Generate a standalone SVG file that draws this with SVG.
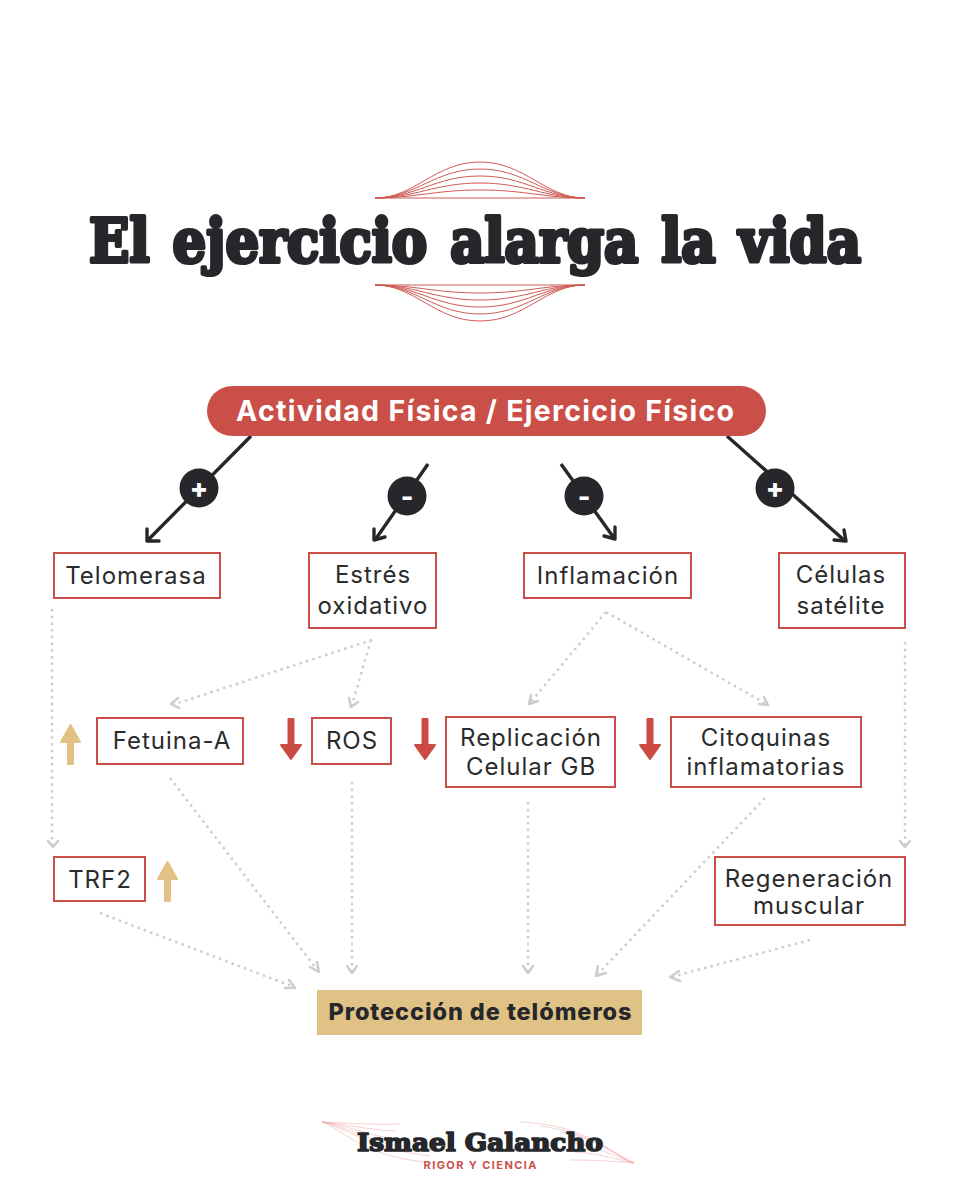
<svg xmlns="http://www.w3.org/2000/svg" width="960" height="1200" viewBox="0 0 960 1200">
<style>
.lb{font-family:Inter,"Noto Sans",sans-serif;font-size:24px;fill:#2a2b2d;text-anchor:middle;letter-spacing:1px}
.bx{fill:#fff;stroke:#cb4f49;stroke-width:2}
.slab{font-family:"DejaVu Serif",serif;font-weight:700;fill:#25272a;stroke:#25272a;text-anchor:middle;stroke-linejoin:round}
.d{fill:none;stroke:#cdcdcd;stroke-width:2.5;stroke-dasharray:2.5 4.2}
.h{fill:none;stroke:#cdcdcd;stroke-width:2.5;stroke-linecap:round;stroke-linejoin:round}
.k{fill:none;stroke:#25272a;stroke-width:3.4}
.kh{fill:none;stroke:#25272a;stroke-width:3.4;stroke-linecap:round;stroke-linejoin:round}
.c{fill:#25272a}
.s{font-family:Inter,sans-serif;font-weight:800;fill:#fff;text-anchor:middle;font-size:27px}
.w{fill:none;stroke:#cf5a54;stroke-width:1}
.up{fill:#e2c185;stroke:#e2c185;stroke-width:2;stroke-linejoin:round}
.dn{fill:#cb4a44;stroke:#cb4a44;stroke-width:2;stroke-linejoin:round}
</style>
<rect width="960" height="1200" fill="#fff"/>
<g id="ornament-top" class="w">
<path d="M375 198C415 198 435 162 480 162S545 198 585 198"/>
<path d="M375 198C415 198 435 169 480 169S545 198 585 198"/>
<path d="M375 198C415 198 435 176 480 176S545 198 585 198"/>
<path d="M375 198C415 198 435 183 480 183S545 198 585 198"/>
<path d="M375 198C415 198 435 190 480 190S545 198 585 198"/>
<path d="M375 198H585"/>
</g>
<g id="ornament-bottom" class="w">
<path d="M375 285C415 285 435 321 480 321S545 285 585 285"/>
<path d="M375 285C415 285 435 314 480 314S545 285 585 285"/>
<path d="M375 285C415 285 435 307 480 307S545 285 585 285"/>
<path d="M375 285C415 285 435 300 480 300S545 285 585 285"/>
<path d="M375 285C415 285 435 293 480 293S545 285 585 285"/>
<path d="M375 285H585"/>
</g>
<text id="title" class="slab" x="475" y="262" font-size="59" stroke-width="4" word-spacing="5" textLength="772" lengthAdjust="spacingAndGlyphs">El ejercicio alarga la vida</text>

<g id="connectors">
<path class="k" d="M251 436L148 540"/><path class="kh" d="M147 529L147 541L159 541"/>
<path class="k" d="M428 464L375 540"/><path class="kh" d="M374 529L374 540L385 537"/>
<path class="k" d="M561 464L614 538"/><path class="kh" d="M615 527L615 539L604 536"/>
<path class="k" d="M727 436L845 541"/><path class="kh" d="M834 540L846 541L844 530"/>

<path class="d" d="M52 609V846"/><path class="h" d="M48 841L53 847L58 841"/>
<path class="d" d="M372 640L172 705"/><path class="h" d="M178 698L171 704L179 708"/>
<path class="d" d="M371 640L352 705"/><path class="h" d="M349 698L351 707L358 702"/>
<path class="d" d="M606 612L530 703"/><path class="h" d="M531 695L529 704L538 701"/>
<path class="d" d="M606 612L768 705"/><path class="h" d="M759 704L768 705L764 697"/>
<path class="d" d="M905 642V846"/><path class="h" d="M900 841L905 847L910 841"/>
<path class="d" d="M170 778L318 971"/><path class="h" d="M310 967L319 972L317 962"/>
<path class="d" d="M352 782V972"/><path class="h" d="M347 966L352 973L357 966"/>
<path class="d" d="M528 802V972"/><path class="h" d="M523 966L528 973L533 966"/>
<path class="d" d="M765 798L597 975"/><path class="h" d="M598 966L596 976L606 973"/>
<path class="d" d="M100 913L294 987"/><path class="h" d="M285 988L295 988L289 980"/>
<path class="d" d="M810 940L671 977"/><path class="h" d="M679 971L670 977L680 981"/>
</g>

<g id="node-actividad"><rect x="207" y="386" width="559" height="50" rx="25" fill="#cb4f49"/><text x="485" y="421" font-family="Inter,sans-serif" font-weight="700" font-size="28.500" fill="#fff" text-anchor="middle" textLength="498">Actividad Física / Ejercicio Físico</text></g>

<g id="sign-1"><circle class="c" cx="199" cy="488" r="19.500"/><text class="s" x="199" y="498">+</text></g>
<g id="sign-2"><circle class="c" cx="407" cy="496" r="19.500"/><text class="s" x="407" y="506">-</text></g>
<g id="sign-3"><circle class="c" cx="584" cy="496" r="19.500"/><text class="s" x="584" y="506">-</text></g>
<g id="sign-4"><circle class="c" cx="775" cy="488" r="19.500"/><text class="s" x="775" y="498">+</text></g>

<g id="node-telomerasa"><rect class="bx" x="54" y="553" width="166" height="45"/><text class="lb" x="136" y="584">Telomerasa</text></g>
<g id="node-estres"><rect class="bx" x="309" y="553" width="127" height="75"/><text class="lb" x="373" y="583">Estrés</text><text class="lb" x="373" y="614">oxidativo</text></g>
<g id="node-inflamacion"><rect class="bx" x="524" y="553" width="167" height="45"/><text class="lb" x="608" y="584">Inflamación</text></g>
<g id="node-celulas"><rect class="bx" x="779" y="553" width="126" height="75"/><text class="lb" x="841" y="583">Células</text><text class="lb" x="841" y="614">satélite</text></g>

<g id="node-fetuina"><rect class="bx" x="97" y="718" width="146" height="46"/><text class="lb" x="172" y="749">Fetuina-A</text></g>
<g id="node-ros"><rect class="bx" x="312" y="718" width="79" height="46"/><text class="lb" x="352" y="749">ROS</text></g>
<g id="node-replicacion"><rect class="bx" x="446" y="717" width="169" height="70"/><text class="lb" x="531" y="746">Replicación</text><text class="lb" x="531" y="775">Celular GB</text></g>
<g id="node-citoquinas"><rect class="bx" x="671" y="717" width="190" height="70"/><text class="lb" x="766" y="746">Citoquinas</text><text class="lb" x="766" y="775">inflamatorias</text></g>
<g id="node-trf2"><rect class="bx" x="54" y="857" width="91" height="44"/><text class="lb" x="100" y="888">TRF2</text></g>
<g id="node-regeneracion"><rect class="bx" x="715" y="857" width="190" height="68"/><text class="lb" x="809" y="887">Regeneración</text><text class="lb" x="809" y="914">muscular</text></g>
<g id="node-proteccion"><rect x="317" y="990" width="325" height="45" fill="#e1c286"/><text x="480" y="1020" font-family="Inter,sans-serif" font-weight="800" font-size="23.500" fill="#25272a" text-anchor="middle" textLength="303">Protección de telómeros</text></g>

<g id="arrow-up-1"><path class="up" d="M68 764V742H61L70.500 725L80 742H73V764Z"/></g>
<g id="arrow-up-2"><path class="up" d="M165 901V879H158L167.500 862L177 879H170V901Z"/></g>
<g id="arrow-down-1"><path class="dn" d="M288.500 719H293.500V745H301L291 759L281 745H288.500Z"/></g>
<g id="arrow-down-2"><path class="dn" d="M422.500 719H427.500V745H435L425 759L415 745H422.500Z"/></g>
<g id="arrow-down-3"><path class="dn" d="M647.500 719H652.500V745H660L650 759L640 745H647.500Z"/></g>

<g id="logo">
<g fill="none" stroke="#eaa5a1" stroke-width=".5">
<path d="M322 1122C345 1130 365 1160 440 1163"/><path d="M322 1122C350 1130 375 1150 430 1156"/><path d="M322 1122C350 1128 370 1142 410 1148"/><path d="M322 1122C350 1126 370 1136 400 1140"/><path d="M322 1122C350 1125 370 1130 395 1131"/><path d="M322 1122C350 1123 370 1125 400 1124"/>
<path d="M634 1163C610 1155 590 1125 520 1122"/><path d="M634 1163C610 1153 590 1132 540 1126"/><path d="M634 1163C612 1152 595 1138 560 1132"/><path d="M634 1163C612 1155 595 1146 570 1142"/><path d="M634 1163C612 1158 595 1153 575 1152"/><path d="M634 1163C612 1161 595 1160 570 1160"/>
</g>
<text class="slab" x="480" y="1151" font-size="25" stroke-width="1.700" textLength="246" lengthAdjust="spacingAndGlyphs">Ismael Galancho</text>
<text x="480" y="1169" font-family="Inter,sans-serif" font-weight="700" font-size="11" fill="#cb4f49" text-anchor="middle" textLength="113">RIGOR Y CIENCIA</text>
</g>
</svg>
